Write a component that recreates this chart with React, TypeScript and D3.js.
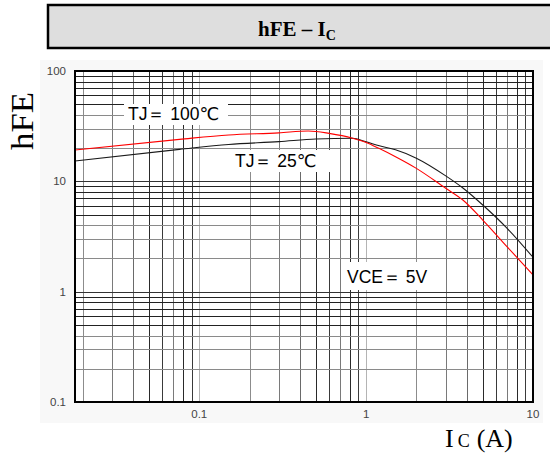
import React from 'react';
import * as d3 from 'd3';

// collector current (A) and hFE readings for each junction temperature
const icTj25 = [0.018, 0.076, 0.15, 0.3, 0.5, 0.83, 1.0, 1.2, 1.5, 2, 3, 3.8, 5, 7, 10];
const hfeTj25 = [15.3, 19.5, 21.6, 22.9, 24.2, 24.6, 22.8, 21.0, 19.3, 16.2, 11.2, 8.7, 6.1, 3.75, 2.05];

const icTj100 = [0.018, 0.076, 0.15, 0.3, 0.45, 0.6, 0.83, 1.0, 1.2, 1.5, 2, 3, 3.8, 5, 7, 10];
const hfeTj100 = [19.2, 24.0, 26.3, 27.5, 28.6, 27.2, 24.6, 22.5, 19.8, 16.7, 13.1, 8.65, 6.77, 4.46, 2.55, 1.42];

const xTickLabels = ['0.1', '1', '10'];
const yTickLabels = ['0.1', '1', '10', '100'];

const multipliers = [1, 2, 3, 4, 5, 6, 7, 8, 9];
const decadesX = [0.01, 0.1, 1, 10];
const decadesY = [0.1, 1, 10, 100];

// grid colours by multiplier (the scan shows a mix of grey and black lines)
const vColor: Record<number, string> = { 1: '#b4b4b4', 2: '#8c8c8c', 3: '#7a7a7a', 4: '#6a6a6a', 5: '#2a2a2a', 6: '#3a3a3a', 7: '#7a7a7a', 8: '#2a2a2a', 9: '#3a3a3a' };
const hColor: Record<number, string> = { 1: '#333', 2: '#8a8a8a', 3: '#8a8a8a', 4: '#8a8a8a', 5: '#222', 6: '#222', 7: '#222', 8: '#222', 9: '#222' };

const sans = "'Liberation Sans', Arial, 'DejaVu Sans', sans-serif";
const serif = "'Liberation Serif', 'Times New Roman', serif";

const App = () => {
  const x = d3.scaleLog().domain([0.018, 10]).range([75, 533]);
  const y = d3.scaleLog().domain([0.1, 100]).range([402, 71]);

  const vLines: { v: number; m: number }[] = [];
  decadesX.forEach(d => multipliers.forEach(m => {
    const v = d * m;
    if (v > 0.018 && v < 10 - 1e-9) vLines.push({ v, m });
  }));
  const hLines: { v: number; m: number }[] = [];
  decadesY.forEach(d => multipliers.forEach(m => {
    const v = d * m;
    if (v > 0.1 + 1e-9 && v < 100 - 1e-9) hLines.push({ v, m });
  }));

  const line = d3.line<[number, number]>()
    .x(d => x(d[0]))
    .y(d => y(d[1]))
    .curve(d3.curveMonotoneX);

  const path25 = line(icTj25.map((c, i) => [c, hfeTj25[i]] as [number, number])) || '';
  const path100 = line(icTj100.map((c, i) => [c, hfeTj100[i]] as [number, number])) || '';

  const px = (v: number) => Math.round(v) + 0.5;

  return (
    <svg width={550} height={455} style={{ position: 'absolute', left: 0, top: 0, background: '#fff' }}>
      {/* title box */}
      <rect x={48} y={5} width={520} height={43} fill="#dedede" stroke="#000" strokeWidth={2.5} />
      <text x={297} y={36} textAnchor="middle" fontFamily={serif} fontWeight="bold" fontSize={21}>
        hFE – I<tspan fontSize={14} dy={4}>C</tspan>
      </text>

      {/* faint panel behind the chart */}
      <rect x={40} y={60} width={503} height={363} fill="#f8f8f8" />
      <rect x={75} y={71} width={458} height={331} fill="#fff" />

      {/* grid */}
      {vLines.map((l, i) => (
        <line key={'v' + i} x1={px(x(l.v))} x2={px(x(l.v))} y1={71} y2={402}
          stroke={vColor[l.m]} strokeWidth={1} shapeRendering="crispEdges" />
      ))}
      {hLines.map((l, i) => (
        <line key={'h' + i} x1={75} x2={533} y1={px(y(l.v))} y2={px(y(l.v))}
          stroke={hColor[l.m]} strokeWidth={1} shapeRendering="crispEdges" />
      ))}

      {/* curves */}
      <path d={path25} fill="none" stroke="#1a1a1a" strokeWidth={1.1} />
      <path d={path100} fill="none" stroke="#ff0000" strokeWidth={1.1} />

      {/* annotations */}
      <rect x={124} y={104} width={104} height={21} fill="#fff" />
      <text x={128} y={120} fontFamily={sans} fontSize={17.5} fill="#000">TJ＝ 100℃</text>
      <rect x={230} y={150} width={100} height={22} fill="#fff" />
      <text x={235} y={167} fontFamily={sans} fontSize={17.5} fill="#000">TJ＝ 25℃</text>
      <rect x={343} y={262} width={99} height={28} fill="#fff" />
      <text x={347} y={283} fontFamily={sans} fontSize={17.5} fill="#000">VCE＝ 5V</text>

      {/* plot frame */}
      <rect x={75} y={71} width={458} height={331} fill="none" stroke="#000" strokeWidth={2} />

      {/* tick labels */}
      {yTickLabels.map(t => (
        <text key={'yt' + t} x={66} y={y(+t) + 4} textAnchor="end" fontFamily={sans} fontSize={11.5} fill="#444">{t}</text>
      ))}
      {xTickLabels.map(t => (
        <text key={'xt' + t} x={x(+t)} y={418} textAnchor="middle" fontFamily={sans} fontSize={11.5} fill="#444">{t}</text>
      ))}

      {/* axis titles */}
      <text transform="translate(33,121) rotate(-90)" textAnchor="middle" fontFamily={serif} fontSize={31}
        textLength={58} lengthAdjust="spacingAndGlyphs" fill="#000">hFE</text>
      <text x={445} y={447} fontFamily={serif} fontSize={26} fill="#000">
        I<tspan fontSize={18} dx={4}>C</tspan><tspan dx={7}>(A)</tspan>
      </text>
    </svg>
  );
};

export default App;
